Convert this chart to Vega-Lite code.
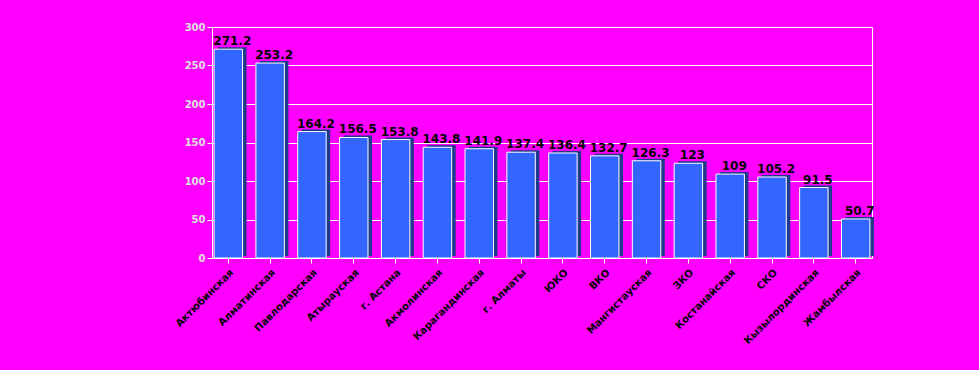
{
  "$schema": "https://vega.github.io/schema/vega-lite/v6.json",
  "width": 660,
  "height": 231,
  "padding": {"left": 212, "top": 27, "right": 107, "bottom": 112},
  "autosize": {"type": "none"},
  "background": "#ff00ff",
  "data": {"values": [
    {"region": "Актюбинская", "value": 271.2},
    {"region": "Алматинская", "value": 253.2},
    {"region": "Павлодарская", "value": 164.2},
    {"region": "Атырауская", "value": 156.5},
    {"region": "г. Астана", "value": 153.8},
    {"region": "Акмолинская", "value": 143.8},
    {"region": "Карагандинская", "value": 141.9},
    {"region": "г. Алматы", "value": 137.4},
    {"region": "ЮКО", "value": 136.4},
    {"region": "ВКО", "value": 132.7},
    {"region": "Мангистауская", "value": 126.3},
    {"region": "ЗКО", "value": 123},
    {"region": "Костанайская", "value": 109},
    {"region": "СКО", "value": 105.2},
    {"region": "Кызылординская", "value": 91.5},
    {"region": "Жамбылская", "value": 50.7}
  ]},
  "config": {"view": {"stroke": "#ffffff", "strokeWidth": 1}},
  "encoding": {
    "x": {"field": "region", "type": "nominal", "sort": null,
      "scale": {"paddingInner": 0.32, "paddingOuter": 0.05},
      "axis": {"title": null, "labelAngle": -45, "labelFont": "DejaVu Sans", "labelFontSize": 10, "labelFontWeight": "bold", "labelColor": "#000000", "domainColor": "#ffffff", "tickColor": "#ffffff", "labelPadding": 4}},
    "y": {"field": "value", "type": "quantitative",
      "scale": {"domain": [0, 300]},
      "axis": {"title": null, "values": [0, 50, 100, 150, 200, 250, 300], "labelColor": "#e0e0e0", "labelFont": "DejaVu Sans", "labelFontSize": 10, "labelFontWeight": "bold", "gridColor": "#ffffff", "gridOpacity": 1, "domainColor": "#ffffff", "tickColor": "#ffffff"}}
  },
  "layer": [
    {"mark": {"type": "bar", "color": "#1f3a8a", "xOffset": 4, "yOffset": -2}},
    {"mark": {"type": "bar", "color": "#3366ff", "stroke": "#ffffff", "strokeWidth": 1}},
    {"mark": {"type": "text", "dy": -8, "dx": 4, "font": "DejaVu Sans", "fontSize": 12, "fontWeight": "bold", "color": "#000000"},
      "encoding": {"text": {"field": "value", "type": "quantitative", "format": ".1~f"}}}
  ]
}
